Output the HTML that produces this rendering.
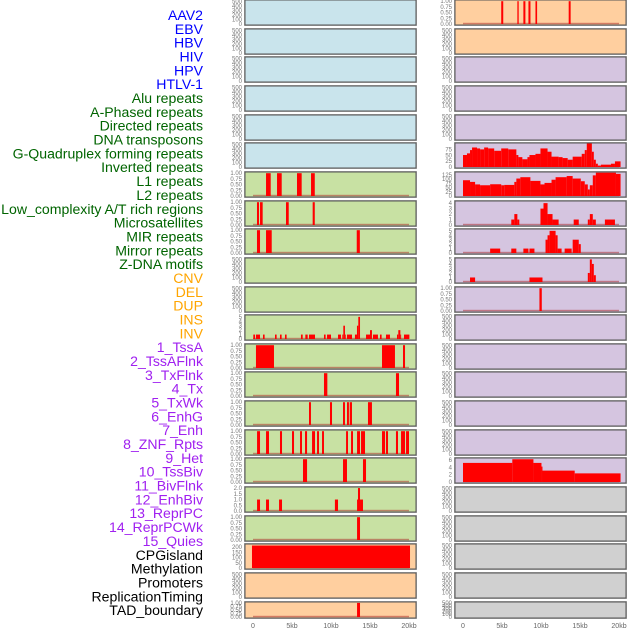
<!DOCTYPE html>
<html><head><meta charset="utf-8">
<style>
body{margin:0;background:#fff;width:630px;height:630px;overflow:hidden}
svg{display:block;font-family:"Liberation Sans",sans-serif}
</style></head>
<body>
<svg id="chart" width="630" height="630" viewBox="0 0 630 630"></svg>
<script>
const trackLabels = ["AAV2","EBV","HBV","HIV","HPV","HTLV-1","Alu repeats","A-Phased repeats","Directed repeats","DNA transposons","G-Quadruplex forming repeats","Inverted repeats","L1 repeats","L2 repeats","Low_complexity A/T rich regions","Microsatellites","MIR repeats","Mirror repeats","Z-DNA motifs","CNV","DEL","DUP","INS","INV","1_TssA","2_TssAFlnk","3_TxFlnk","4_Tx","5_TxWk","6_EnhG","7_Enh","8_ZNF_Rpts","9_Het","10_TssBiv","11_BivFlnk","12_EnhBiv","13_ReprPC","14_ReprPCWk","15_Quies","CPGisland","Methylation","Promoters","ReplicationTiming","TAD_boundary"];
const trackGroups = ["virus","virus","virus","virus","virus","virus","repeat","repeat","repeat","repeat","repeat","repeat","repeat","repeat","repeat","repeat","repeat","repeat","repeat","sv","sv","sv","sv","sv","chrom","chrom","chrom","chrom","chrom","chrom","chrom","chrom","chrom","chrom","chrom","chrom","chrom","chrom","chrom","other","other","other","other","other"];
const xTicks = [0,5,10,15,20];
const xTickLabels = ["0","5kb","10kb","15kb","20kb"];

// segments: [startKb, endKb, value]
const seg_left_6 = [[1.67,2.27,1],[3.08,3.68,1],[5.64,6.24,1],[7.44,7.92,1]];
const seg_left_7 = [[0.51,0.77,1],[0.9,1.24,1],[4.23,4.58,1],[7.65,7.92,1]];
const seg_left_8 = [[0.51,0.9,1],[1.67,2.4,1],[13.3,13.7,1]];
const seg_left_11 = [[0.04,0.26,1],[0.38,0.9,1],[1.28,1.49,1],[2.82,3.03,1],[3.46,3.67,1],[4.1,4.31,1],[6.15,6.37,1],[6.71,7.01,1],[7.18,7.95,1],[9.1,9.31,1],[9.49,10.0,1],[10.9,11.28,1],[11.45,11.58,1],[11.58,11.79,3],[11.79,11.88,1],[12.05,12.69,1],[13.07,13.33,1],[13.33,13.5,3],[13.5,13.72,5],[14.49,15.0,1],[15.0,15.25,2],[15.38,16.02,1],[16.28,16.49,1],[17.05,17.56,1],[18.46,18.63,1],[18.63,18.89,2],[18.89,18.97,1],[19.36,20.05,1]];
const seg_left_12 = [[0.38,2.69,1],[16.54,18.2,1],[19.23,19.49,1]];
const seg_left_13 = [[9.1,9.53,1],[18.33,18.72,1]];
const seg_left_14 = [[7.18,7.43,1],[9.87,10.13,1],[11.54,11.79,1],[12.05,12.3,1],[12.4,12.69,1],[14.74,15.25,1]];
const seg_left_15 = [[0.52,0.9,1],[1.67,2.05,1],[3.46,3.72,1],[5.0,5.26,1],[6.03,6.28,1],[6.67,6.93,1],[7.57,7.95,1],[8.21,8.46,1],[8.85,9.1,1],[11.93,12.18,1],[12.57,12.82,1],[13.34,13.72,1],[13.85,14.36,1],[16.54,16.93,1],[17.05,17.31,1],[18.33,18.59,1],[18.98,19.49,1],[19.62,20.0,1]];
const seg_left_16 = [[6.41,6.93,1],[11.54,12.05,1],[14.1,14.49,1]];
const seg_left_17 = [[0.52,0.9,1],[1.67,2.05,1],[3.34,3.72,1],[10.5,10.9,1],[13.34,13.46,1],[13.46,13.72,2],[13.72,14.1,1]];
const seg_left_18 = [[13.34,13.72,1]];
const seg_left_19 = [[-0.13,20.13,215]];
const seg_left_21 = [[13.34,13.72,1]];
const seg_right_0 = [[4.9,5.16,1],[6.97,7.14,1],[7.74,8.0,1],[8.39,8.65,1],[9.29,9.5,1],[13.55,13.8,1]];
const edges_right_5 = [0,0.51,0.9,1.16,1.8,2.19,2.71,3.22,4.0,4.9,5.8,6.84,7.1,7.61,8.26,8.52,9.29,9.93,10.84,11.35,12.26,12.77,13.42,14.06,15.22,15.61,15.87,16.52,16.77,17.03,17.29,17.68,18.97,19.48,20.2];
const vals_right_5 = [51,58,72,83,79,75,83,79,69,79,75,51,42,33,42,51,56,79,65,44,42,38,31,44,56,72,100,65,31,14,6,10,14,24];
const edges_right_6 = [0,0.9,1.55,2.19,3.48,4.9,5.29,6.58,6.84,7.35,8.64,9.93,10.45,11.35,11.87,13.29,14.06,15.1,15.61,16.0,16.26,16.64,17.03,19.61,20.2];
const vals_right_6 = [94,84,69,64,70,64,66,84,104,112,90,69,78,97,112,119,104,88,69,39,64,123,139,132];
const seg_right_7 = [[6.19,6.58,1],[6.58,6.97,2],[6.97,7.22,1],[9.93,10.32,3],[10.32,10.84,4],[10.84,11.48,2],[11.48,12.26,1],[14.19,14.84,1],[16.0,16.26,1],[16.26,16.64,2],[16.64,17.03,1],[18.19,19.48,1]];
const seg_right_8 = [[3.48,4.77,1],[6.19,6.84,1],[7.74,8.39,1],[8.52,9.16,1],[10.58,10.84,3],[10.84,11.1,4],[11.1,11.87,5],[11.87,12.13,4],[12.13,12.64,1],[13.03,13.93,1],[14.06,14.84,3],[14.84,15.1,2]];
const seg_right_9 = [[0.9,1.55,1],[8.52,10.19,1],[16.0,16.26,2],[16.26,16.52,5],[16.52,16.77,4],[16.77,17.03,1.5]];
const seg_right_10 = [[9.8,10.1,1]];
const edges_right_16 = [0,6.32,9.03,10.06,10.19,14.32,20.2];
const vals_right_16 = [5.2,6.2,5.2,4.2,3.1,2.35];

const ticksEmpty = [0,100,200,300,400,500];
const ticksBinary = [0,0.25,0.5,0.75,1];
const ticksBinaryLabels = ["0.00","0.25","0.50","0.75","1.00"];

function stepsToSegs(edges, vals){ const s=[]; for(let i=0;i<vals.length;i++) s.push([edges[i],edges[i+1],vals[i]]); return s; }

const E = [null,520,ticksEmpty,ticksEmpty.map(String)];
const B = s => [s,1.03,ticksBinary,ticksBinaryLabels];
const leftSpecs = [E,E,E,E,E,E,B(seg_left_6),B(seg_left_7),B(seg_left_8),E,E,
  [seg_left_11,5.3,[0,1,2,3,4,5],["0","1","2","3","4","5"]],
  B(seg_left_12),B(seg_left_13),B(seg_left_14),B(seg_left_15),B(seg_left_16),
  [seg_left_17,2.05,[0,0.5,1,1.5,2],["0.0","0.5","1.0","1.5","2.0"]],
  B(seg_left_18),[seg_left_19,225,[0,50,100,150,200],["0","50","100","150","200"]],E,B(seg_left_21)];
const rightSpecs = [B(seg_right_0),E,E,E,E,
  [stepsToSegs(edges_right_5,vals_right_5),100,[0,25,50,75],["0","25","50","75"]],
  [stepsToSegs(edges_right_6,vals_right_6),140,[0,25,50,75,100,125],["0","25","50","75","100","125"]],
  [seg_right_7,4.3,[0,1,2,3,4],["0","1","2","3","4"]],
  [seg_right_8,5.3,[0,1,2,3,4,5],["0","1","2","3","4","5"]],
  [seg_right_9,5.2,[0,1,2,3,4,5],["0","1","2","3","4","5"]],
  B(seg_right_10),E,E,E,E,E,
  [stepsToSegs(edges_right_16,vals_right_16),6.4,[0,2,4,6],["0","2","4","6"]],
  E,E,E,E,E];

const groupFill = {virus:"#c9e4ec",repeat:"#c8e1a3",sv:"#ffcf9f",chrom:"#d5c5e0",other:"#d0d0d0"};
const groupText = {virus:"#0000ff",repeat:"#006400",sv:"#ffa500",chrom:"#a020f0",other:"#000000"};

const NS="http://www.w3.org/2000/svg";
const svg=document.getElementById("chart");
function mk(tag,attrs,parent){const e=document.createElementNS(NS,tag);for(const k in attrs)e.setAttribute(k,attrs[k]);(parent||svg).appendChild(e);return e;}

trackLabels.forEach((t,i)=>{
  const el=mk("text",{x:203,y:15+13.84*i+5,"text-anchor":"end","font-size":"14.1",fill:groupText[trackGroups[i]]});
  el.textContent=t;
  
  
});

const pitch=28.65;
function drawPanel(col,row,spec,labelIdx){
  const L = col===0?245:455, W=171;
  const top = Math.round(row*pitch);
  const h = row===21?16:25;
  const g=mk("g",{});
  
  
  mk("rect",{x:L-0.5,y:top-0.5,width:W+1,height:h+1,fill:"none",stroke:"#b0b0b0","stroke-width":1},g);
  mk("rect",{x:L,y:top,width:W,height:h,fill:groupFill[trackGroups[labelIdx]],stroke:"#555","stroke-width":1},g);
  const [segs,ymax,ticks,tl]=spec;
  const bottom=top+h-1, ph=h-1.5;
  const xs=kb=>L+8+kb*7.8;
  const ys=v=>bottom-v/ymax*ph;
  ticks.forEach((tv,i)=>{
    const t=mk("text",{x:L-3,y:ys(tv)+2,"text-anchor":"end","font-size":"6",fill:"#777"},g);
    t.textContent=tl[i];
    
    
  });
  if(segs){
    mk("rect",{x:xs(0),y:bottom-1.2,width:xs(20)-xs(0),height:1.4,fill:"rgba(170,40,40,0.5)"},g);
    segs.forEach(s=>{
      const r=mk("rect",{x:xs(s[0]),y:ys(s[2]),width:Math.max(0.8,xs(s[1])-xs(s[0])),height:bottom-ys(s[2]),fill:"#ff0000"},g);
      
      
    });
  }
}
for(let r=0;r<22;r++){ drawPanel(0,r,leftSpecs[r],r); drawPanel(1,r,rightSpecs[r],22+r); }

[245,455].forEach(L=>{
  xTicks.forEach((kb,i)=>{
    const t=mk("text",{x:L+8+kb*7.8,y:628,"text-anchor":"middle","font-size":"7",fill:"#666"});
    t.textContent=xTickLabels[i];
    
    
  });
});
</script>
</body></html>
